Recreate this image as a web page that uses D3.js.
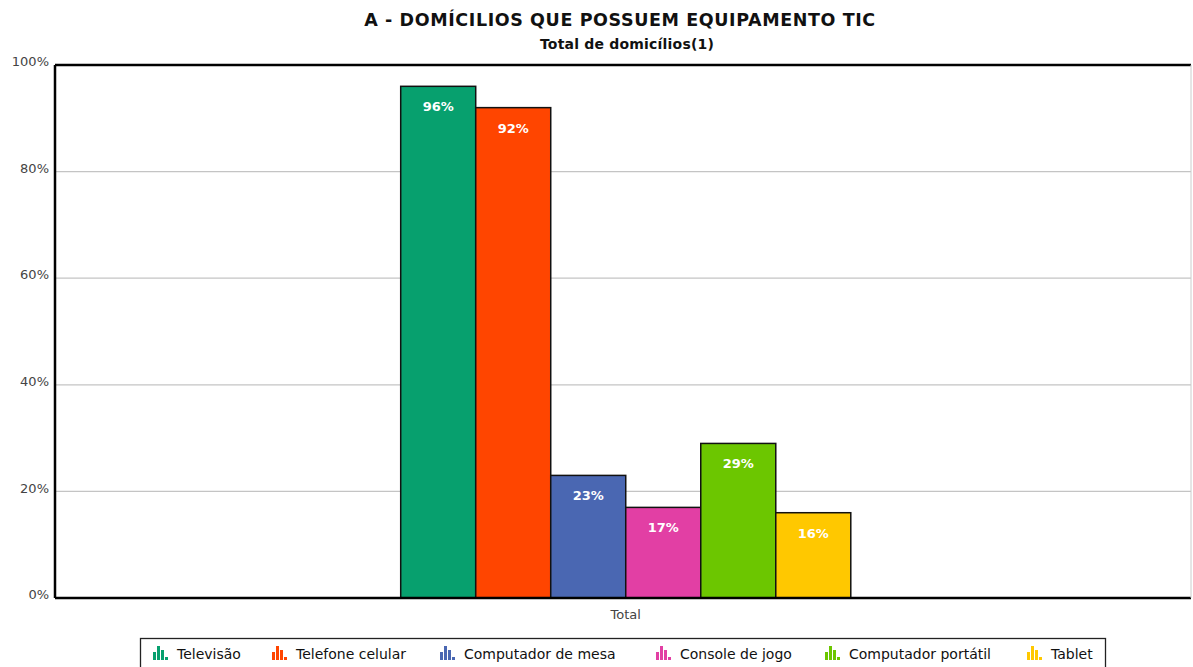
<!DOCTYPE html>
<html>
<head>
<meta charset="utf-8">
<script src="https://cdn.jsdelivr.net/npm/d3@7"></script>
<style>
  body { margin: 0; background: #fff; }
  svg { display: block; font-family: "DejaVu Sans", sans-serif; }
</style>
</head>
<body>
<div id="chart"></div>
<script>
// data
var categories = ["Televisão", "Telefone celular", "Computador de mesa", "Console de jogo", "Computador portátil", "Tablet"];
var values = [96, 92, 23, 17, 29, 16];
var colors = ["#07a06e", "#ff4500", "#4a67b2", "#e23fa4", "#6cc600", "#ffc800"];
var yTicks = [0, 20, 40, 60, 80, 100];
var groupName = "Total";

var svgWidth = 1193;
var svgHeight = 667;

var margin = { top: 65, right: 2, bottom: 69, left: 55 };
var width = svgWidth - margin.left - margin.right;
var height = svgHeight - margin.top - margin.bottom;

var svg = d3.select("#chart")
  .append("svg")
  .attr("width", svgWidth)
  .attr("height", svgHeight);

// titles
svg.append("text")
  .attr("x", 620)
  .attr("y", 26)
  .attr("text-anchor", "middle")
  .style("font-size", "17.5px")
  .style("font-weight", "bold")
  .style("letter-spacing", "0.6px")
  .attr("fill", "#111")
  .text("A - DOMÍCILIOS QUE POSSUEM EQUIPAMENTO TIC");

svg.append("text")
  .attr("x", 627)
  .attr("y", 49)
  .attr("text-anchor", "middle")
  .style("font-size", "14px")
  .style("font-weight", "bold")
  .style("letter-spacing", "0.2px")
  .attr("fill", "#111")
  .text("Total de domicílios(1)");

var chartGroup = svg.append("g")
  .attr("transform", `translate(${margin.left}, ${margin.top})`);

var yScale = d3.scaleLinear()
  .domain([0, 100])
  .range([height, 0]);

// group band, then series inside it
var x0 = d3.scaleBand()
  .domain([groupName])
  .range([0, width])
  .paddingInner(0)
  .paddingOuter(0.762)
  .align(0.504);

var x1 = d3.scaleBand()
  .domain(categories)
  .range([0, x0.bandwidth()]);

// gridlines
chartGroup.append("g")
  .selectAll("line")
  .data(yTicks.filter(d => d > 0 && d < 100))
  .enter()
  .append("line")
  .attr("x1", 0)
  .attr("x2", width)
  .attr("y1", d => yScale(d))
  .attr("y2", d => yScale(d))
  .attr("stroke", "#c4c4c4")
  .attr("stroke-width", 1.2);

// y axis labels
var yAxis = d3.axisLeft(yScale)
  .tickValues(yTicks)
  .tickSize(0)
  .tickPadding(6)
  .tickFormat(d => d + "%");

var yAxisG = chartGroup.append("g").call(yAxis);
yAxisG.select(".domain").remove();
yAxisG.selectAll("text")
  .style("font-size", "13px")
  .style("font-family", "'DejaVu Sans', sans-serif")
  .attr("fill", "#444")
  .attr("dy", "0.05em");

// bars
var barGroup = chartGroup.append("g")
  .attr("transform", `translate(${x0(groupName)}, 0)`);

barGroup.selectAll("rect")
  .data(values)
  .enter()
  .append("rect")
  .attr("x", (d, i) => x1(categories[i]))
  .attr("y", d => yScale(d))
  .attr("width", x1.bandwidth())
  .attr("height", d => height - yScale(d))
  .attr("fill", (d, i) => colors[i])
  .attr("stroke", "#111")
  .attr("stroke-width", 1.5);

barGroup.selectAll(".lbl")
  .data(values)
  .enter()
  .append("text")
  .attr("class", "lbl")
  .attr("x", (d, i) => x1(categories[i]) + x1.bandwidth() / 2)
  .attr("y", d => yScale(d) + 25)
  .attr("text-anchor", "middle")
  .attr("fill", "#fff")
  .style("font-size", "13px")
  .style("font-weight", "bold")
  .text(d => d + "%");

// plot frame: left, top, bottom
chartGroup.append("line")
  .attr("x1", 0).attr("x2", 0)
  .attr("y1", 0).attr("y2", height)
  .attr("stroke", "#000").attr("stroke-width", 2.5);
chartGroup.append("line")
  .attr("x1", 0).attr("x2", width)
  .attr("y1", 0).attr("y2", 0)
  .attr("stroke", "#000").attr("stroke-width", 2.5);
chartGroup.append("line")
  .attr("x1", 0).attr("x2", width)
  .attr("y1", height).attr("y2", height)
  .attr("stroke", "#000").attr("stroke-width", 2.5);
chartGroup.append("line")
  .attr("x1", width).attr("x2", width)
  .attr("y1", 0).attr("y2", height)
  .attr("stroke", "#ccc").attr("stroke-width", 1);

// x label
chartGroup.append("text")
  .attr("x", x0(groupName) + x0.bandwidth() / 2)
  .attr("y", height + 21)
  .attr("text-anchor", "middle")
  .attr("fill", "#444")
  .style("font-size", "13px")
  .text(groupName);

// legend
var legendX = [153, 272, 440, 656, 825, 1027];
var legend = svg.append("g");

legend.append("rect")
  .attr("x", 140.5)
  .attr("y", 638.5)
  .attr("width", 965)
  .attr("height", 40)
  .attr("fill", "#fff")
  .attr("stroke", "#222")
  .attr("stroke-width", 1.3);

var items = legend.selectAll(".item")
  .data(categories)
  .enter()
  .append("g")
  .attr("class", "item")
  .attr("transform", (d, i) => `translate(${legendX[i]}, 646)`);

// small bar-chart icon
var iconBars = [[0, 6, 3, 8], [4, 0, 3, 14], [8, 4, 3, 10], [12, 11, 3, 3]];
items.each(function(d, i) {
  d3.select(this).selectAll("rect")
    .data(iconBars)
    .enter()
    .append("rect")
    .attr("x", b => b[0])
    .attr("y", b => b[1])
    .attr("width", b => b[2])
    .attr("height", b => b[3])
    .attr("fill", colors[i]);
});

items.append("text")
  .attr("x", 24)
  .attr("y", 13)
  .attr("fill", "#111")
  .style("font-size", "14px")
  .text(d => d);
</script>
</body>
</html>
